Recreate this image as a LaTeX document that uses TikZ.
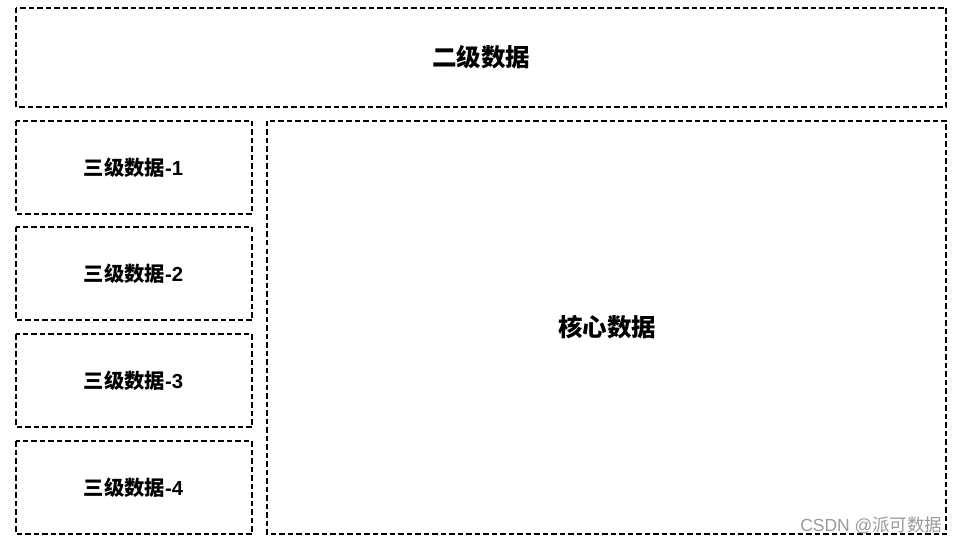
\documentclass[tikz,border=0pt]{standalone}
\usepackage{fontspec}
\newfontfamily\cjk{Noto Sans CJK SC}
\newfontfamily\lat{Liberation Sans}
\begin{document}
\begin{tikzpicture}[x=1pt,y=-1pt,
  box/.style={draw=black, line width=1.5pt, dash pattern=on 5.5pt off 3pt},
  bigtxt/.style={font=\cjk\bfseries\fontsize{24.5}{28}\selectfont},
  smalltxt/.style={font=\cjk\bfseries\fontsize{20.3}{24}\selectfont},
  wm/.style={font=\cjk\fontsize{17.5}{20}\selectfont, text=black!40}]
\useasboundingbox (0,0) rectangle (960,545);
\draw[box] (16,8) rectangle (946,107);
\node[bigtxt] (top) at (481,57) {二级数据};
\draw[box] (16,121) rectangle (252,214);
\node[smalltxt] (l1) at (133.5,167.5) {三级数据{\lat\bfseries -1}};
\draw[box] (16,227) rectangle (252,320);
\node[smalltxt] (l2) at (133.5,273.5) {三级数据{\lat\bfseries -2}};
\draw[box] (16,334) rectangle (252,427);
\node[smalltxt] (l3) at (133.5,380.5) {三级数据{\lat\bfseries -3}};
\draw[box] (16,441) rectangle (252,534);
\node[smalltxt] (l4) at (133.5,487.5) {三级数据{\lat\bfseries -4}};
\draw[box] (267,121) rectangle (946,534);
\node[bigtxt] (core) at (607,327.5) {核心数据};
\node[wm, anchor=east] (wmk) at (946,525) {{\lat CSDN @}派可数据};
\end{tikzpicture}
\end{document}
